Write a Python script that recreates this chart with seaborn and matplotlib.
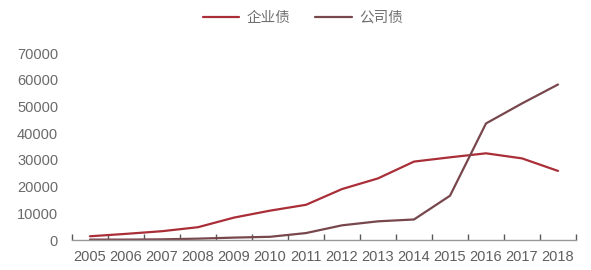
import matplotlib
matplotlib.use("Agg")
import matplotlib.pyplot as plt
import seaborn as sns
import pandas as pd
from matplotlib.ticker import FixedLocator

years = ["2005", "2006", "2007", "2008", "2009", "2010", "2011",
         "2012", "2013", "2014", "2015", "2016", "2017", "2018"]
enterprise_bonds = [1400, 2300, 3300, 4800, 8400, 11000, 13200,
                    19100, 23100, 29400, 31000, 32500, 30600, 25900]
corporate_bonds = [150, 150, 250, 500, 900, 1200, 2600,
                   5500, 7000, 7700, 16600, 43700, 51200, 58300]
series_names = ["企业债", "公司债"]
yticks = [0, 10000, 20000, 30000, 40000, 50000, 60000, 70000]

df = pd.concat([
    pd.DataFrame({"year": years, "value": enterprise_bonds, "series": series_names[0]}),
    pd.DataFrame({"year": years, "value": corporate_bonds, "series": series_names[1]}),
])

sns.set_theme(style="white")
plt.rcParams["font.family"] = ["Liberation Sans", "Noto Sans CJK SC", "DejaVu Sans"]

fig = plt.figure(figsize=(5.91, 2.70), dpi=100)
ax = fig.add_axes([72 / 591, 1 - 240 / 270, (576 - 72) / 591, (240 - 53.3) / 270])

palette = {series_names[0]: "#AA2E38", series_names[1]: "#77474C"}
sns.lineplot(data=df, x="year", y="value", hue="series", palette=palette,
             linewidth=1.6, ax=ax, sort=False, legend=True)

n = len(years)
ax.set_xlim(-0.5, n - 0.5)
ax.set_ylim(0, 70000)
ax.set_yticks(yticks)
ax.set_yticklabels([str(v) for v in yticks])
ax.set_xlabel("")
ax.set_ylabel("")

for s in ["top", "right", "left"]:
    ax.spines[s].set_visible(False)
ax.spines["bottom"].set_color("#9A9A9A")
ax.spines["bottom"].set_linewidth(1.0)

ax.xaxis.set_minor_locator(FixedLocator([i - 0.5 for i in range(n + 1)]))
ax.tick_params(axis="x", which="major", length=0, pad=7, labelsize=10.5, labelcolor="#5F5F5F")
ax.tick_params(axis="x", which="minor", bottom=True, direction="in", length=4,
               width=1.0, color="#595959")
ax.tick_params(axis="y", length=0, pad=10, labelsize=10.5, labelcolor="#6A6A6A")
ax.grid(False)

leg = ax.legend(loc="center", bbox_to_anchor=(303 / 591, 1 - 18 / 270),
                bbox_transform=fig.transFigure, ncol=2, frameon=False,
                fontsize=10.5, handlelength=2.5, handletextpad=0.5,
                columnspacing=1.7, title=None)
for t in leg.get_texts():
    t.set_color("#707070")

fig.savefig("out.png", dpi=100, facecolor="white")
